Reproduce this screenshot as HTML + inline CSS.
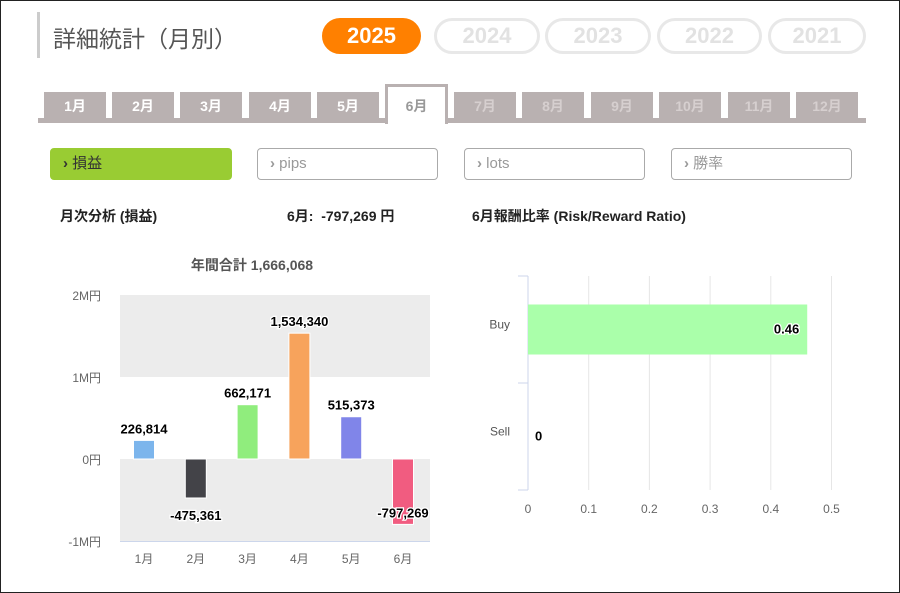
<!DOCTYPE html>
<html><head><meta charset="utf-8"><style>
*{box-sizing:border-box;margin:0;padding:0}
body{width:900px;height:593px;background:#fff;font-family:"Liberation Sans","Noto Sans CJK JP",sans-serif;position:relative;overflow:hidden}
.frame{position:absolute;left:0;top:0;width:900px;height:593px;border:1px solid #222}
.abs{position:absolute}
.pill{position:absolute;top:18px;height:36px;border-radius:18px;border:3px solid #e8e8e8;color:#e2e2e2;font-weight:bold;font-size:22px;text-align:center;line-height:30px}
.tab{position:absolute;top:92px;height:28px;width:62px;background:#b9b1b1;color:#fff;font-size:14px;font-weight:bold;text-align:center;line-height:28px}
.tab.dim{color:#d6cfcf}
.btn{position:absolute;top:148px;height:32px;border:1px solid #aaa;border-radius:4px;font-size:15px;color:#999;line-height:30px;padding-left:12px}
.lbl{position:absolute;top:206px;font-size:14px;font-weight:bold;color:#222}
</style></head><body>
<div class="frame"></div>
<div class="abs" style="left:37px;top:12px;width:3px;height:46px;background:#ccc"></div>
<div class="abs" style="left:53px;top:20px;font-size:23px;color:#555">詳細統計（月別）</div>
<div class="pill" style="left:322px;width:99px;background:#ff8000;border-color:#ff8000;color:#fff">2025</div>
<div class="pill" style="left:434px;width:106px">2024</div>
<div class="pill" style="left:545px;width:106px">2023</div>
<div class="pill" style="left:657px;width:105px">2022</div>
<div class="pill" style="left:768px;width:98px">2021</div>

<div class="abs" style="left:38px;top:118px;width:828px;height:5px;background:#b9b1b1"></div>
<div class="tab" style="left:44px">1月</div>
<div class="tab" style="left:112px">2月</div>
<div class="tab" style="left:180px">3月</div>
<div class="tab" style="left:249px">4月</div>
<div class="tab" style="left:317px">5月</div>
<div class="abs" style="left:385px;top:84px;width:63px;height:40px;background:#fff;border:3px solid #b9b1b1;border-bottom:none;color:#999;font-size:14px;font-weight:bold;text-align:center;line-height:38px">6月</div>
<div class="tab dim" style="left:454px">7月</div>
<div class="tab dim" style="left:522px">8月</div>
<div class="tab dim" style="left:591px">9月</div>
<div class="tab dim" style="left:659px">10月</div>
<div class="tab dim" style="left:728px">11月</div>
<div class="tab dim" style="left:796px">12月</div>

<div class="btn" style="left:50px;width:182px;background:#99cc33;border-color:#99cc33;color:#333"><b>›</b> 損益</div>
<div class="btn" style="left:257px;width:181px"><b>›</b> pips</div>
<div class="btn" style="left:464px;width:181px"><b>›</b> lots</div>
<div class="btn" style="left:671px;width:181px"><b>›</b> 勝率</div>

<div class="lbl" style="left:60px">月次分析 (損益)</div>
<div class="lbl" style="left:287px">6月:&nbsp; -797,269 円</div>
<div class="lbl" style="left:472px">6月報酬比率 (Risk/Reward Ratio)</div>

<svg class="abs" style="left:0;top:0" width="900" height="593">
<g id="bar"></g>
<g id="hbar"></g>
</svg>
<script>
const months=["1月","2月","3月","4月","5月","6月"];
const profits=[226814,-475361,662171,1534340,515373,-797269];
const profitLabels=["226,814","-475,361","662,171","1,534,340","515,373","-797,269"];
const barColors=["#7cb5ec","#434348","#90ed7d","#f7a35c","#8085e9","#f15c80"];
const yTicks=[2000000,1000000,0,-1000000];
const yTickLabels=["2M円","1M円","0円","-1M円"];
const rrCats=["Buy","Sell"];
const rrVals=[0.46,0];
const rrLabels=["0.46","0"];
const xTicks=[0,0.1,0.2,0.3,0.4,0.5];
const NS="http://www.w3.org/2000/svg";
function mk(p,t,a,txt){const e=document.createElementNS(NS,t);for(const k in a)e.setAttribute(k,a[k]);if(txt!==undefined)e.textContent=txt;p.appendChild(e);return e;}
const g=document.getElementById('bar');
const L=120,R=430,y=v=>459-v/1000000*82,cx=i=>144+i*51.8;
const t=mk(g,'text',{x:252,y:270,'text-anchor':'middle','font-size':14,'font-weight':'bold',fill:'#555'},'年間合計 1,666,068');

for(let i=0;i<yTicks.length-1;i+=2){const b=mk(g,'rect',{x:L,y:y(yTicks[i]),width:R-L,height:y(yTicks[i+1])-y(yTicks[i]),fill:'#ececec'});
}
mk(g,'line',{x1:L,x2:R,y1:y(-1000000)+0.5,y2:y(-1000000)+0.5,stroke:'#ccd6eb'});
yTicks.forEach((v,i)=>{const e=mk(g,'text',{x:101,y:y(v)+5,'text-anchor':'end','font-size':12,fill:'#666'},yTickLabels[i]);
});
months.forEach((m,i)=>{const v=profits[i];const y0=y(0),y1=y(v);
const r=mk(g,'rect',{x:cx(i)-10.5,y:Math.min(y0,y1),width:21,height:Math.abs(y1-y0),fill:barColors[i],stroke:'#fff','stroke-width':1});

const ly=v>=0?y1-7:(i==5?y1-7:y1+22);
const tl=mk(g,'text',{x:cx(i),y:ly,'text-anchor':'middle','font-size':13,'font-weight':'bold',fill:'#000',stroke:'#fff','stroke-width':2.5,'paint-order':'stroke'},profitLabels[i]);

const xl=mk(g,'text',{x:cx(i),y:563,'text-anchor':'middle','font-size':12,fill:'#666'},m);
});
const h=document.getElementById('hbar');
const X0=528,px=v=>X0+v*607,T=276,B=490,bh=(B-T)/rrCats.length;
xTicks.forEach(v=>{if(v>0){const gl=mk(h,'line',{x1:px(v),x2:px(v),y1:T,y2:B,stroke:'#e6e6e6'});}
const e=mk(h,'text',{x:px(v),y:513,'text-anchor':'middle','font-size':12,fill:'#666'},String(v));
});
mk(h,'line',{x1:X0,x2:X0,y1:T,y2:B,stroke:'#ccd6eb'});
[T,T+bh,B].forEach(yy=>mk(h,'line',{x1:X0-10,x2:X0,y1:yy,y2:yy,stroke:'#ccd6eb'}));
rrCats.forEach((c,i)=>{const cy=T+bh*(i+0.5);
const cl=mk(h,'text',{x:510,y:cy-1,'text-anchor':'end','font-size':12,fill:'#555'},c);

const w=px(rrVals[i])-X0;
if(w>0){const r=mk(h,'rect',{x:X0,y:cy-25,width:w,height:50,fill:'#aaffaa'});}
const lx=w>40?px(rrVals[i])-8:X0+7;
const vl=mk(h,'text',{x:lx,y:cy+4,'text-anchor':w>40?'end':'start','font-size':13,'font-weight':'bold',fill:'#000',stroke:'#fff','stroke-width':2.5,'paint-order':'stroke'},rrLabels[i]);
});
</script>
</body></html>
